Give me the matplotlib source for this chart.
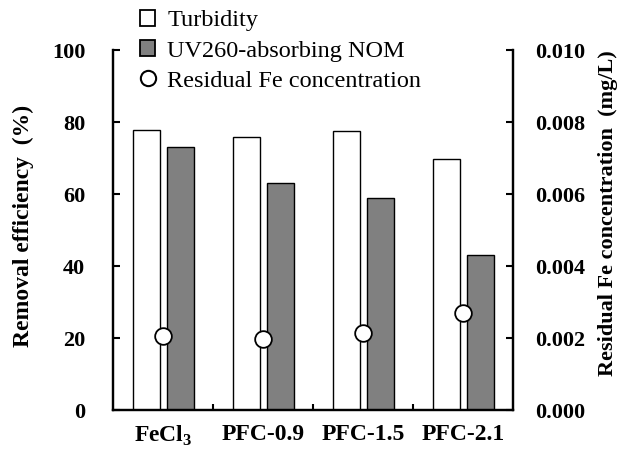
import matplotlib
matplotlib.use("Agg")
import matplotlib.pyplot as plt
import numpy as np
from matplotlib.patches import Patch
from matplotlib.lines import Line2D

plt.rcParams['font.family'] = ['Liberation Serif', 'DejaVu Serif']
plt.rcParams['mathtext.fontset'] = 'custom'
plt.rcParams['mathtext.rm'] = 'Liberation Serif:bold'
plt.rcParams['mathtext.bf'] = 'Liberation Serif:bold'

categories = [r'FeCl$_3$', 'PFC-0.9', 'PFC-1.5', 'PFC-2.1']
turbidity = [77.8, 75.7, 77.6, 69.7]
uv260 = [73.0, 63.0, 59.0, 43.0]
residual_fe = [0.00206, 0.00196, 0.00215, 0.00270]

fig = plt.figure(figsize=(6.31, 4.51), dpi=100)
ax = fig.add_axes([113/631, 41/451, 400/631, 360/451])
ax2 = ax.twinx()

x = np.arange(len(categories))
w = 0.27
ax.bar(x - 0.165, turbidity, w, color='white', edgecolor='black', linewidth=1.0, zorder=2)
ax.bar(x + 0.175, uv260, w, color='#808080', edgecolor='black', linewidth=1.0, zorder=2)
ax2.plot(x, residual_fe, linestyle='none', marker='o', markersize=12,
         markerfacecolor='white', markeredgecolor='black', markeredgewidth=1.3, zorder=3)

ax.set_xlim(-0.5, 3.5)
ax.set_ylim(0, 100)
ax2.set_ylim(0, 0.010)
ax.set_yticks([0, 20, 40, 60, 80, 100])
ax2.set_yticks([0, 0.002, 0.004, 0.006, 0.008, 0.010])
ax2.set_yticklabels(['0.000', '0.002', '0.004', '0.006', '0.008', '0.010'])

ax.set_xticks([0.5, 1.5, 2.5], minor=False)
ax.set_xticklabels([])
ax.set_xticks(x, minor=True)
ax.set_xticklabels(categories, minor=True)
ax.tick_params(axis='x', which='major', direction='in', length=4, width=1.5)
ax.tick_params(axis='x', which='minor', length=0, pad=10, labelsize=17)
for lab in ax.get_xticklabels(minor=True):
    lab.set_fontweight('bold')

ax.tick_params(axis='y', direction='in', length=5, width=1.5, labelsize=16, pad=20)
ax2.tick_params(axis='y', direction='in', length=5, width=1.5, labelsize=16, pad=16)
for lab in ax.get_yticklabels() + ax2.get_yticklabels():
    lab.set_fontweight('bold')

for a in (ax, ax2):
    a.spines['top'].set_visible(False)
    for s in ('left', 'right', 'bottom'):
        a.spines[s].set_linewidth(1.6)

ax.set_ylabel('Removal efficiency  (%)', fontsize=17, fontweight='bold')
ax.yaxis.set_label_coords(-0.1975, 0.511)
ax2.set_ylabel('Residual Fe concentration  (mg/L)', fontsize=16, fontweight='bold')
ax2.yaxis.set_label_coords(1.2125, 0.547)

handles = [
    Patch(facecolor='white', edgecolor='black', linewidth=1.3),
    Patch(facecolor='#808080', edgecolor='black', linewidth=1.3),
    Line2D([], [], linestyle='none', marker='o', markersize=11, markerfacecolor='white',
           markeredgecolor='black', markeredgewidth=1.5),
]
labels = ['Turbidity', 'UV260-absorbing NOM', 'Residual Fe concentration']
fig.legend(handles, labels, loc='upper left', bbox_to_anchor=(140/631, 0.978), frameon=False,
           fontsize=17.5, handlelength=0.62, handleheight=0.62, handletextpad=0.5,
           labelspacing=0.36, borderpad=0, borderaxespad=0)

fig.savefig('out.png', dpi=100)
